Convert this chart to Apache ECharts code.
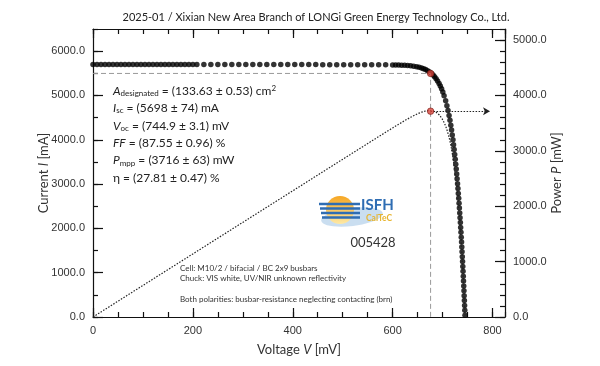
<!DOCTYPE html>
<html>
<head>
<meta charset="utf-8">
<script src="https://cdn.jsdelivr.net/npm/echarts@6/dist/echarts.min.js"></script>
<style>html,body{margin:0;padding:0;background:#fff}#c{width:600px;height:366px}#err{position:absolute;left:2px;top:352px;font:8px sans-serif;color:#c00}</style>
</head>
<body>
<div id="c"></div><div id="err"></div>
<script>
(function () {
  const show = m => { document.getElementById('err').textContent += ' ' + m; };
  window.addEventListener('error', e => show(e.message));
  const ce = console.error, cw = console.warn;
  console.error = function () { show([].join.call(arguments, ' ').slice(0, 160)); ce.apply(console, arguments); };
  console.warn = function () { show([].join.call(arguments, ' ').slice(0, 160)); cw.apply(console, arguments); };
})();
// ---- data ----
const voltage = [0,8,16,24,32,40,48,56,64,72,80,88,96,104,112,120,128,136,144,152,160,168,176,184,192,200,208,
  222,236,250,264,278,292,306,320,334,348,362,376,390,404,418,432,446,460,474,488,502,516,530,544,558,572,586,600,
  606,612,618,624,630,636,642,648,653,658,662,666,670,674,678,681,684,687,690,693,695.5,698,700.5,703,
  706.2,708.7,710.9,713.0,714.8,716.5,718.0,719.4,720.8,722.0,723.2,724.3,725.4,726.4,727.4,728.3,729.1,730.0,
  730.8,731.5,732.3,733.0,733.7,734.4,735.0,735.6,736.2,736.8,737.4,738.0,738.5,739.0,739.5,740.0,740.5,741.0,
  741.5,741.9,742.4,742.8,743.2,743.7,744.1,744.5,744.9];
const current = [5700,5700,5700,5700,5700,5700,5700,5699,5699,5699,5699,5699,5699,5699,5699,5699,5699,5699,5699,5698,5698,5698,5698,5698,5698,5698,5698,
  5698,5698,5697,5697,5697,5697,5697,5697,5697,5697,5696,5696,5696,5696,5696,5696,5696,5695,5695,5695,5695,5695,5694,5694,5694,5693,5692,5690,
  5688.4,5686.5,5683.8,5680.4,5675.6,5669.1,5660.6,5649.0,5636.2,5619.9,5603.6,5583.6,5559.3,5529.6,5493.3,5461.0,5423.3,5379.6,5328.8,5269.9,5213.5,5149.6,5077.2,4995.1,
  4880,4770,4660,4550,4440,4330,4220,4110,4000,3890,3780,3670,3560,3450,3340,3230,3120,3010,
  2900,2790,2680,2570,2460,2350,2240,2130,2020,1910,1800,1690,1580,1470,1360,1250,1140,1030,
  920,810,700,590,480,370,260,150,40];
const mpp = {V: 676, I: 5497, P: 3716};
const arrowEndV = 795;
const xMajor = 200, xMinor = 50, xMax = 825;
const iMax = 6500, iMajor = 1000, iMinor = 500;
const pMax = 5200, pMajor = 1000, pMinor = 200;
const titleText = '2025-01 / Xixian New Area Branch of LONGi Green Energy Technology Co., Ltd.';
const xName = 'Voltage {i|V} [mV]';
const yName = 'Current {i|I} [mA]';
const y2Name = 'Power {i|P} [mW]';
const resultLines = [
  '{i|A}{sub|designated} = (133.63 ± 0.53) cm{sup|2}',
  '{i|I}{sub|sc} = (5698 ± 74) mA',
  '{i|V}{sub|oc} = (744.9 ± 3.1) mV',
  '{i|FF} = (87.55 ± 0.96) %',
  '{i|P}{sub|mpp} = (3716 ± 63) mW',
  'η = (27.81 ± 0.47) %'
];
const infoLines = [
  'Cell: M10/2 / bifacial / BC 2x9 busbars',
  'Chuck: VIS white, UV/NIR unknown reflectivity',
  '',
  'Both polarities: busbar-resistance neglecting contacting (brn)'
];
const cellId = '005428';

// ---- build ----
const FONT = 'Lato, "Open Sans", sans-serif';
const ivData = voltage.map((v, k) => [v, current[k]]);
const pData = voltage.map((v, k) => [v, v * current[k] / 1000]);

function ax(pos, max, interval, len, line, label) {
  return {type: 'value', position: pos, min: 0, max: max, interval: interval,
    axisLine: {show: line, onZero: false, lineStyle: {color: '#111', width: 1.2}},
    axisTick: {show: true, inside: true, length: len, lineStyle: {color: '#111', width: 1.2}},
    axisLabel: {show: label, showMaxLabel: false, fontSize: 11, color: '#333'},
    splitLine: {show: false}};
}
const fmt = function (v) { const n = Number(v); return isFinite(n) ? n.toFixed(1) : String(v); };

const xAxes = [
  ax('bottom', xMax, xMajor, 9, true, true),
  ax('top', xMax, xMajor, 9, true, false),
  ax('bottom', xMax, xMinor, 5, false, false),
  ax('top', xMax, xMinor, 5, false, false)
];
const yAxes = [
  ax('left', iMax, iMajor, 10, true, true),
  ax('right', pMax, pMajor, 10, true, true),
  ax('left', iMax, iMinor, 5, false, false),
  ax('right', pMax, pMinor, 5, false, false)
];
yAxes[0].axisLabel.formatter = fmt;
yAxes[1].axisLabel.formatter = fmt;

const rich = {
  i: {fontStyle: 'italic', fontFamily: FONT, fontSize: 12, color: '#222'},
  sub: {fontFamily: FONT, fontSize: 8, color: '#222', padding: [5, 0, 0, 0]},
  sup: {fontFamily: FONT, fontSize: 8, color: '#222', padding: [0, 0, 6, 0]}
};
const nameRich = {i: {fontStyle: 'italic', fontFamily: FONT, fontSize: 13, color: '#333'}};
const graphics = [];
graphics.push({type: 'text', x: 316, y: 12, style: {text: titleText, fill: '#222', font: '11px ' + FONT, textAlign: 'center'}});
graphics.push({type: 'text', x: 299, y: 350, style: {text: xName, rich: nameRich, fill: '#333', font: '13px ' + FONT, textAlign: 'center', textVerticalAlign: 'middle'}});
graphics.push({type: 'text', x: 44, y: 173, rotation: Math.PI / 2, style: {text: yName, rich: nameRich, fill: '#333', font: '13px ' + FONT, textAlign: 'center', textVerticalAlign: 'middle'}});
graphics.push({type: 'text', x: 557, y: 173, rotation: Math.PI / 2, style: {text: y2Name, rich: nameRich, fill: '#333', font: '13px ' + FONT, textAlign: 'center', textVerticalAlign: 'middle'}});
resultLines.forEach((t, k) => {
  graphics.push({type: 'text', x: 113, y: 91 + k * 17.4, style: {text: t, rich: rich, fill: '#222', font: '12px ' + FONT, textVerticalAlign: 'middle'}});
});
infoLines.forEach((t, k) => {
  if (t) graphics.push({type: 'text', x: 180, y: 268 + k * 10.5, style: {text: t, fill: '#333', font: '8px ' + FONT, textVerticalAlign: 'middle'}});
});
// logo
graphics.push({type: 'ellipse', shape: {cx: 352, cy: 217, rx: 31, ry: 9}, rotation: 0.12, originX: 352, originY: 217, style: {fill: 'rgba(150,190,225,0.5)'}});
graphics.push({type: 'circle', shape: {cx: 340, cy: 210, r: 14}, style: {fill: new echarts.graphic.LinearGradient(0, 0, 0, 1, [{offset: 0, color: '#f6a623'}, {offset: 1, color: '#fde9a6'}])}});
[204, 208.5, 213, 217.5].forEach((yy, k) => {
  graphics.push({type: 'rect', shape: {x: 319 + k, y: yy - 1.2, width: 41 - k, height: 2.4}, style: {fill: '#2f6db3'}});
});
graphics.push({type: 'text', x: 361, y: 205, style: {text: 'ISFH', fill: '#2f6db3', font: 'bold 15px ' + FONT, textVerticalAlign: 'middle'}});
graphics.push({type: 'text', x: 366, y: 218, style: {text: 'CalTeC', fill: '#e7b531', font: 'bold 8.5px ' + FONT, textVerticalAlign: 'middle'}});
graphics.push({type: 'text', x: 373, y: 243, style: {text: cellId, fill: '#333', font: '13px ' + FONT, textAlign: 'center', textVerticalAlign: 'middle'}});

try {
  const chart = echarts.init(document.getElementById('c'));
  chart.setOption({
    animation: false,
    backgroundColor: '#fff',
    grid: {left: 93, right: 95, top: 29, bottom: 49},
    xAxis: xAxes,
    yAxis: yAxes,
    graphic: graphics,
    series: [
      {type: 'line', xAxisIndex: 0, yAxisIndex: 0, data: [[0, mpp.I], [mpp.V, mpp.I], [mpp.V, 0]], showSymbol: false, silent: true,
        lineStyle: {color: '#999', width: 1, type: [5, 3]}},
      {type: 'line', xAxisIndex: 0, yAxisIndex: 1, data: pData, showSymbol: false, silent: true,
        lineStyle: {color: '#222', width: 1.2, type: [1.5, 1.5]},
        markLine: {silent: true, symbol: ['none', 'arrow'], symbolSize: [6, 7], label: {show: false},
          lineStyle: {color: '#222', width: 1.2, type: [1.5, 1.5]},
          data: [[{coord: [mpp.V, mpp.P]}, {coord: [arrowEndV, mpp.P]}]]}},
      {type: 'scatter', xAxisIndex: 0, yAxisIndex: 0, data: ivData, symbolSize: 5.5, itemStyle: {color: '#000'}, silent: true},
      {type: 'scatter', xAxisIndex: 0, yAxisIndex: 0, data: [[mpp.V, mpp.I]], symbolSize: 6.5, itemStyle: {color: '#d8453c', borderColor: '#7a1a14', borderWidth: 0.8}, z: 5, silent: true},
      {type: 'scatter', xAxisIndex: 0, yAxisIndex: 1, data: [[mpp.V, mpp.P]], symbolSize: 6.5, itemStyle: {color: '#d8453c', borderColor: '#7a1a14', borderWidth: 0.8}, z: 5, silent: true}
    ]
  });
} catch (e) {
  document.getElementById('err').textContent += ' EXC ' + e.message;
}
</script>
</body>
</html>
